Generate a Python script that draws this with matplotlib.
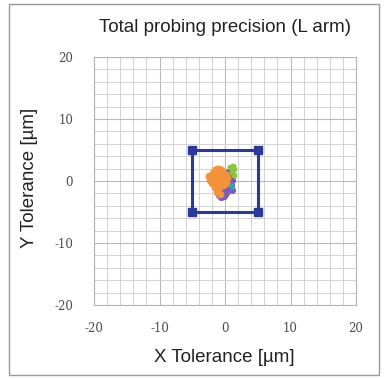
import matplotlib
matplotlib.use("Agg")
import matplotlib.pyplot as plt
from matplotlib.patches import Rectangle

plt.rcParams["axes.unicode_minus"] = False

# tolerance square (corners, um)
box_x = [-5, 5, 5, -5, -5]
box_y = [5, 5, -5, -5, 5]

purple_x = [0.4, 0.8, 1.0, 0.9, 0.6, 0.2, -0.2, -0.6, -0.9, 0.5, 0.0, 1.1, -0.4]
purple_y = [1.4, 0.8, 0.1, -0.6, -1.3, -1.9, -2.4, -2.6, -2.2, -0.2, -1.2, -1.4, -1.8]

orange_x = [-2.4, -2.3, -2.0, -1.8, -1.5, -1.2, -0.9, -0.6, -0.3, 0.1, 0.3, -2.1, -1.6,
            -1.1, -0.6, -0.1, 0.2, -1.8, -1.3, -0.8, -0.3, -1.5, -1.0, -0.6, -1.2, -0.8]
orange_y = [0.8, 0.2, -0.4, 1.3, 1.8, 2.0, 1.9, 1.7, 1.3, 1.0, 0.5, 0.5, 0.9,
            1.2, 0.8, 0.2, -0.3, -0.2, 0.0, 0.3, -0.6, -0.9, -1.3, -0.7, -1.8, -2.1]

green_x = [0.8, 1.2, 1.4, 1.1, 1.3]
green_y = [2.3, 2.5, 1.9, 1.4, 1.0]

cyan_x = [1.0, 0.9]
cyan_y = [-1.0, -0.6]

ticks = [-20, -10, 0, 10, 20]

fig = plt.figure(figsize=(3.84, 3.79), dpi=100)
ax = fig.add_axes([94 / 384, 1 - 305 / 379, 262 / 384, 248 / 379])

# outer frame
fig.patches.append(Rectangle((9 / 384, 4 / 379), 370 / 384, 371 / 379,
                             transform=fig.transFigure, fill=False,
                             edgecolor="#9a9a9a", linewidth=1.0))

ax.set_xlim(-20, 20)
ax.set_ylim(-20, 20)
ax.set_xticks(ticks)
ax.set_yticks(ticks)
ax.set_xticks(range(-20, 21, 2), minor=True)
ax.set_yticks(range(-20, 21, 2), minor=True)
ax.grid(which="minor", color="#d2d2d2", linewidth=0.7)
ax.grid(which="major", color="#b8b8b8", linewidth=0.8)
ax.set_axisbelow(True)
ax.tick_params(which="both", length=0)
ax.tick_params(axis="x", pad=12, labelsize=8.5, labelcolor="#4a4a4a")
ax.tick_params(axis="y", pad=15, labelsize=8.5, labelcolor="#4a4a4a")
for lab in ax.get_xticklabels() + ax.get_yticklabels():
    lab.set_family("DejaVu Serif")
for s in ax.spines.values():
    s.set_color("#b4b4b4")
    s.set_linewidth(0.8)

ax.plot(purple_x, purple_y, "o", color="#7b5cb8", markersize=5.2, markeredgewidth=0)
ax.plot(orange_x, orange_y, "o", color="#f39339", markersize=5.6, markeredgewidth=0)
ax.plot(cyan_x, cyan_y, "o", color="#2aa7c2", markersize=3.5, markeredgewidth=0)
ax.plot(green_x, green_y, "o", color="#8cc540", markersize=4.3, markeredgewidth=0)

ax.plot(box_x, box_y, "-", color="#2c3a97", linewidth=2.2)
ax.plot(box_x[:4], box_y[:4], "s", color="#2c3a97", markersize=6)

fig.text(225 / 384, 1 - 28 / 379, "Total probing precision (L arm)",
         ha="center", va="center", fontsize=13.5, family="Liberation Sans", color="#222222")
fig.text(224 / 384, 1 - 357 / 379, "X Tolerance [\u00b5m]",
         ha="center", va="center", fontsize=13.5, family="Liberation Sans", color="#222222")
fig.text(30 / 384, 1 - 178 / 379, "Y Tolerance [\u00b5m]", rotation=90,
         ha="center", va="center", fontsize=13.5, family="Liberation Sans", color="#222222")

fig.savefig("out.png", dpi=100)
